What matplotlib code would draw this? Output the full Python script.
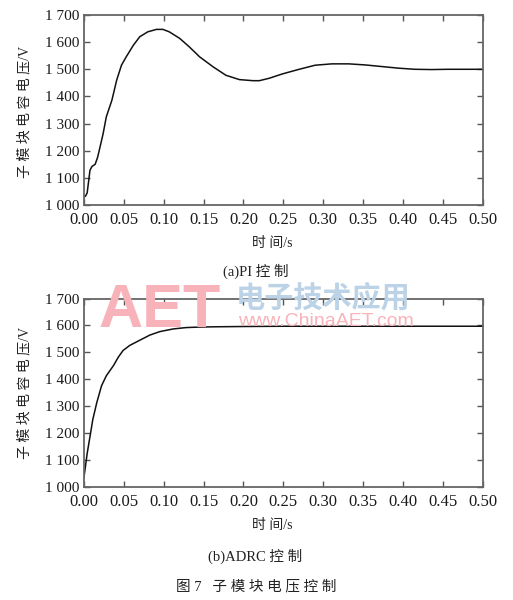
import matplotlib
matplotlib.use("Agg")
import matplotlib.pyplot as plt

plt.rcParams["font.family"] = ["Liberation Serif", "Noto Sans CJK SC"]

# PI control, sub-module capacitor voltage
pi_t = [0.0, 0.002, 0.004, 0.0075, 0.010, 0.014, 0.017, 0.020, 0.024, 0.028,
        0.035, 0.041, 0.047, 0.053, 0.062, 0.070, 0.080, 0.091, 0.099, 0.107,
        0.120, 0.132, 0.145, 0.162, 0.178, 0.195, 0.212, 0.220, 0.2325, 0.249,
        0.270, 0.290, 0.311, 0.332, 0.353, 0.374, 0.395, 0.415, 0.436, 0.457,
        0.480, 0.500]
pi_v = [1030, 1033, 1045, 1128, 1142, 1150, 1175, 1212, 1263, 1325,
        1386, 1460, 1515, 1546, 1589, 1620, 1638, 1647, 1647, 1638,
        1614, 1583, 1546, 1509, 1478, 1462, 1458, 1458, 1467, 1483,
        1500, 1515, 1520, 1520, 1516, 1510, 1504, 1500, 1499, 1500,
        1500, 1500]

# ADRC control
adrc_t = [0.0, 0.0017, 0.004, 0.0075, 0.011, 0.016, 0.022, 0.028, 0.037, 0.043,
          0.049, 0.0575, 0.070, 0.0825, 0.095, 0.112, 0.128, 0.145, 0.166, 0.20,
          0.25, 0.30, 0.35, 0.40, 0.45, 0.50]
adrc_v = [1037, 1074, 1125, 1187, 1250, 1313, 1376, 1413, 1451, 1482,
          1507, 1526, 1545, 1564, 1577, 1587, 1592, 1594, 1595, 1596,
          1597, 1597, 1597, 1597, 1597, 1597]

x_ticks = [0.00, 0.05, 0.10, 0.15, 0.20, 0.25, 0.30, 0.35, 0.40, 0.45, 0.50]
x_labels = ["0.00", "0.05", "0.10", "0.15", "0.20", "0.25", "0.30", "0.35",
            "0.40", "0.45", "0.50"]
y_ticks = [1000, 1100, 1200, 1300, 1400, 1500, 1600, 1700]
y_labels = ["1 000", "1 100", "1 200", "1 300", "1 400", "1 500", "1 600", "1 700"]

ylabel_text = "子 模 块 电 容 电 压/V"
xlabel_text = "时 间/s"
caption_a = "(a)PI 控 制"
caption_b = "(b)ADRC 控 制"
fig_caption = "图 7   子 模 块 电 压 控 制"

fig = plt.figure(figsize=(5.13, 6.0), dpi=100)
W, H = 513, 600

ax1 = fig.add_axes([84 / W, 1 - 205 / H, 398.5 / W, 190 / H])
ax2 = fig.add_axes([84 / W, 1 - 487 / H, 398.5 / W, 188.5 / H])


def style(ax):
    ax.set_xlim(0, 0.5)
    ax.set_ylim(1000, 1700)
    ax.set_xticks(x_ticks)
    ax.set_xticklabels(x_labels, fontsize=12)
    ax.set_yticks(y_ticks)
    ax.set_yticklabels(y_labels, fontsize=11)
    ax.tick_params(direction="in", length=4, width=1.0, color="#555555",
                   top=True, right=True, labelcolor="#1a1a1a")
    ax.tick_params(axis="x", pad=5)
    ax.tick_params(axis="y", pad=3)
    for s in ax.spines.values():
        s.set_color("#666666")
        s.set_linewidth(1.3)


# watermark behind the lower plot
fig.text(98 / W, 1 - 327 / H, "AET", color="#f7b3b9", fontsize=44,
         family="Liberation Sans", weight="bold", zorder=0)
fig.text(323 / W, 1 - 297 / H, "电子技术应用", color="#bcd2e6", fontsize=21,
         family="Noto Sans CJK SC", weight="bold", ha="center", va="center",
         zorder=0)
fig.text(326 / W, 1 - 322 / H, "www.ChinaAET.com", color="#f7b3b9", fontsize=14,
         family="Liberation Sans", ha="center", va="center", zorder=0)

ax1.plot(pi_t, pi_v, color="#111111", linewidth=1.1)
ax2.plot(adrc_t, adrc_v, color="#111111", linewidth=1.1)
ax2.patch.set_alpha(0)
for ax in (ax1, ax2):
    style(ax)

fig.text(25 / W, 1 - 112 / H, ylabel_text, rotation=90, ha="center", va="center",
         fontsize=10, color="#222222")
fig.text(25 / W, 1 - 393 / H, ylabel_text, rotation=90, ha="center", va="center",
         fontsize=10, color="#222222")
fig.text(272 / W, 1 - 243 / H, xlabel_text, ha="center", va="center",
         fontsize=10, color="#222222")
fig.text(272 / W, 1 - 526 / H, xlabel_text, ha="center", va="center",
         fontsize=10, color="#222222")
fig.text(256 / W, 1 - 271 / H, caption_a, ha="center", va="center",
         fontsize=10.5, color="#222222")
fig.text(255 / W, 1 - 556 / H, caption_b, ha="center", va="center",
         fontsize=10.5, color="#222222")
fig.text(256 / W, 1 - 587 / H, fig_caption, ha="center", va="center",
         fontsize=10.5, color="#222222")

fig.savefig("out.png", dpi=100)
